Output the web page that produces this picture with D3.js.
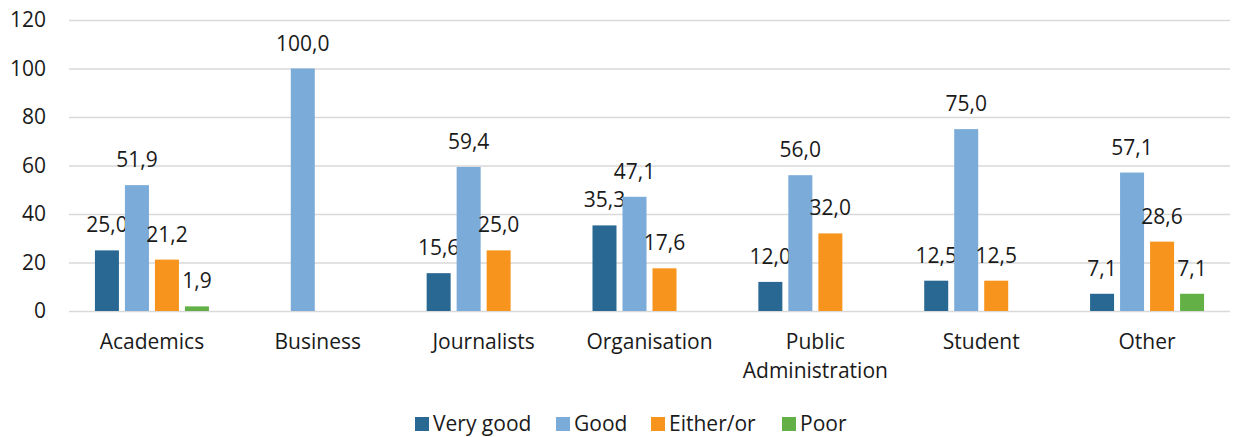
<!DOCTYPE html>
<html>
<head>
<meta charset="utf-8">
<script src="https://cdn.jsdelivr.net/npm/d3@7"></script>
<style>
  body { margin: 0; background: #fff; }
  svg text { font-family: "Open Sans", Lato, sans-serif; fill: #1a1a1a; }
</style>
</head>
<body>
<div id="chart"></div>
<script>
const categories = ['Academics', 'Business', 'Journalists', 'Organisation', 'Public Administration', 'Student', 'Other'];
const seriesNames = ['Very good', 'Good', 'Either/or', 'Poor'];
const veryGood = [25.0, null, 15.6, 35.3, 12.0, 12.5, 7.1];
const good = [51.9, 100.0, 59.4, 47.1, 56.0, 75.0, 57.1];
const eitherOr = [21.2, null, 25.0, 17.6, 32.0, 12.5, 28.6];
const poor = [1.9, null, null, null, null, null, 7.1];
const yTicks = [0, 20, 40, 60, 80, 100, 120];
const colors = ['#286893', '#7aabd9', '#f7941e', '#63b146'];

const width = 1236, height = 437;
const margin = { top: 20, right: 6, bottom: 126, left: 69 };
const fontSize = '21px';

const svg = d3.select('#chart').append('svg')
    .attr('width', width)
    .attr('height', height);

const x = d3.scaleBand()
    .domain(categories)
    .range([margin.left, width - margin.right]);

const inner = d3.scaleBand()
    .domain(seriesNames)
    .range([x.bandwidth() / 2 - 57, x.bandwidth() / 2 + 57])
    .paddingInner(0.2);

const y = d3.scaleLinear()
    .domain([0, 120])
    .range([height - margin.bottom, margin.top]);

// gridlines
const yAxis = svg.append('g')
    .attr('transform', `translate(${margin.left},0)`)
    .call(d3.axisLeft(y).tickValues(yTicks).tickSize(-(width - margin.left - margin.right)).tickPadding(23));
yAxis.select('.domain').remove();
yAxis.selectAll('.tick line').attr('stroke', '#d9d9d9').attr('stroke-width', 1.5);
yAxis.selectAll('.tick text')
    .style('font-size', fontSize)
    .attr('fill', '#1a1a1a');

const series = [veryGood, good, eitherOr, poor];

series.forEach((vals, si) => {
    const g = svg.append('g');
    const rows = categories.map((c, i) => ({ c, v: vals[i] })).filter(d => d.v !== null);
    g.selectAll('rect').data(rows).join('rect')
        .attr('x', d => x(d.c) + inner(seriesNames[si]))
        .attr('y', d => y(d.v))
        .attr('width', inner.bandwidth())
        .attr('height', d => y(0) - y(d.v))
        .attr('fill', colors[si]);
    g.selectAll('text').data(rows).join('text')
        .attr('x', d => x(d.c) + inner(seriesNames[si]) + inner.bandwidth() / 2)
        .attr('y', d => y(d.v) - 18)
        .attr('text-anchor', 'middle')
        .style('font-size', fontSize)
        .text(d => d3.format('.1f')(d.v).replace('.', ','));
});

// category labels
const xAxis = svg.append('g');
categories.forEach(c => {
    const words = c === 'Public Administration' ? ['Public', 'Administration'] : [c];
    words.forEach((w, li) => {
        xAxis.append('text')
            .attr('x', x(c) + x.bandwidth() / 2)
            .attr('y', y(0) + 38 + li * 29)
            .attr('text-anchor', 'middle')
            .style('font-size', fontSize)
            .text(w);
    });
});

// legend
const legendX = [415, 556, 651, 782];
const legend = svg.append('g').attr('transform', `translate(0, 424)`);
seriesNames.forEach((s, i) => {
    legend.append('rect')
        .attr('x', legendX[i]).attr('y', -7)
        .attr('width', 14).attr('height', 14)
        .attr('fill', colors[i]);
    legend.append('text')
        .attr('x', legendX[i] + 18)
        .attr('y', 7)
        .style('font-size', fontSize)
        .text(s);
});
</script>
</body>
</html>
